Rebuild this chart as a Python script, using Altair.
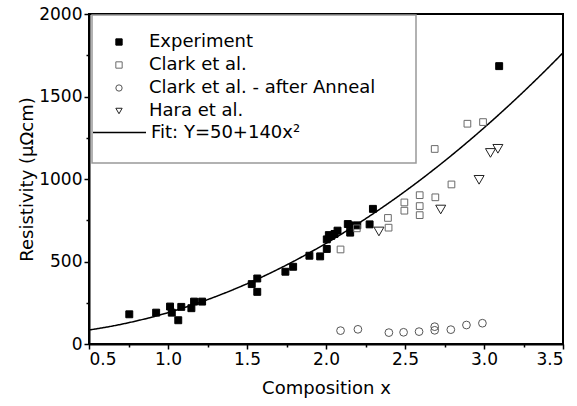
import altair as alt
import pandas as pd
import numpy as np

# ---- data ----
exp_x = [0.755, 0.925, 1.013, 1.024, 1.065, 1.084, 1.148, 1.165, 1.216, 1.53, 1.565, 1.565,
         1.743, 1.792, 1.895, 1.963, 2.005, 2.005, 2.018, 2.033, 2.054, 2.073, 2.138, 2.153,
         2.153, 2.198, 2.276, 2.297, 3.096]
exp_y = [180, 190, 227, 190, 144, 225, 217, 257, 257, 363, 397, 316,
         438, 468, 535, 531, 576, 634, 660, 655, 667, 687, 727, 719,
         675, 719, 725, 819, 1684]

clark_x = [2.092, 2.195, 2.392, 2.396, 2.496, 2.496, 2.593, 2.593, 2.593, 2.692, 2.688, 2.794, 2.895, 2.994]
clark_y = [573, 701, 764, 705, 858, 808, 902, 836, 781, 889, 1182, 967, 1335, 1345]

anneal_x = [2.092, 2.202, 2.398, 2.491, 2.589, 2.688, 2.688, 2.79, 2.889, 2.99]
anneal_y = [81, 89, 69, 71, 75, 105, 83, 87, 115, 126]

hara_x = [2.335, 2.726, 2.969, 3.041, 3.088]
hara_y = [682, 815, 995, 1158, 1183]

series_names = ["Experiment", "Clark et al.", "Clark et al. - after Anneal", "Hara et al."]
fit_label = "Fit: Y=50+140x\u00b2"
fit_a, fit_b = 50, 140

x_ticks = [0.5, 0.75, 1.0, 1.25, 1.5, 1.75, 2.0, 2.25, 2.5, 2.75, 3.0, 3.25, 3.5]
y_ticks = [0, 250, 500, 750, 1000, 1250, 1500, 1750, 2000]

# ---- tables ----
rows = []
for name, xs, ys in [(series_names[0], exp_x, exp_y), (series_names[1], clark_x, clark_y),
                     (series_names[2], anneal_x, anneal_y), (series_names[3], hara_x, hara_y)]:
    for a, b in zip(xs, ys):
        rows.append({"x": a, "y": b, "series": name})
pts = pd.DataFrame(rows)

fx = np.linspace(0.5, 3.5, 121)
fit = pd.DataFrame({"x": fx, "y": fit_a + fit_b * fx ** 2, "name": fit_label})

FONT = "DejaVu Sans"

xscale = alt.Scale(domain=[0.5, 3.5], nice=False, zero=False)
yscale = alt.Scale(domain=[0, 2000], nice=False)

xaxis = alt.Axis(
    values=x_ticks, title="Composition x",
    labelExpr="abs(datum.value*2 - round(datum.value*2)) < 0.01 ? format(datum.value, '.1f') : ''",
    tickSize={"condition": {"test": "abs(datum.value*2 - round(datum.value*2)) < 0.01", "value": 5}, "value": 3},
    labelPadding=2, titlePadding=12,
)
yaxis = alt.Axis(
    values=y_ticks, title="Resistivity (\u03bc\u03a9cm)",
    labelExpr="datum.value % 500 == 0 ? format(datum.value, 'd') : ''",
    tickSize={"condition": {"test": "datum.value % 500 == 0", "value": 5}, "value": 3},
    labelPadding=2, titlePadding=2,
)

shape_scale = alt.Scale(domain=series_names, range=["square", "square", "circle", "triangle-down"])
fill_scale = alt.Scale(domain=series_names, range=["black", "transparent", "transparent", "transparent"])
stroke_scale = alt.Scale(domain=series_names, range=["black", "#6a6a6a", "#555555", "#222222"])

pt_legend = alt.Legend(
    title=None, orient="none", legendX=21, legendY=19, symbolSize=40, symbolStrokeWidth=1,
    labelFontSize=18, labelFont=FONT, labelOffset=21, rowPadding=5, padding=0, labelLimit=0,
)

base = alt.Chart(pts)
sizes = {series_names[0]: 48, series_names[1]: 45, series_names[2]: 60, series_names[3]: 100}
layers = []
for i, name in enumerate(series_names):
    layers.append(
        base.transform_filter(alt.datum.series == name)
        .mark_point(size=sizes[name], strokeWidth=1, opacity=1)
        .encode(
            x=alt.X("x:Q", scale=xscale, axis=xaxis),
            y=alt.Y("y:Q", scale=yscale, axis=yaxis),
            shape=alt.Shape("series:N", scale=shape_scale, legend=pt_legend),
            fill=alt.Fill("series:N", scale=fill_scale, legend=pt_legend),
            stroke=alt.Stroke("series:N", scale=stroke_scale, legend=pt_legend),
        )
    )

line = alt.Chart(fit).mark_line(color="black", strokeWidth=1.5, clip=True).encode(
    x=alt.X("x:Q", scale=xscale, axis=xaxis),
    y=alt.Y("y:Q", scale=yscale, axis=yaxis),
    strokeDash=alt.StrokeDash(
        "name:N", scale=alt.Scale(domain=[fit_label], range=[[1, 0]]),
        legend=alt.Legend(title=None, orient="none", legendX=3, legendY=91, symbolType="stroke",
                          symbolSize=2809, symbolStrokeColor="black", symbolStrokeWidth=1.5,
                          labelFontSize=18, labelFont=FONT, labelOffset=4, padding=0, labelLimit=0),
    ),
)

box = alt.Chart(pd.DataFrame({"k": [0]})).mark_rect(
    fill="transparent", stroke="#999999", strokeWidth=1.5
).encode(x=alt.value(3), x2=alt.value(327), y=alt.value(1), y2=alt.value(149))

chart = alt.layer(box, line, *layers).properties(
    width=474, height=330,
    autosize=alt.AutoSizeParams(type="none"),
    padding={"left": 89, "top": 14, "right": 14, "bottom": 62},
).configure_view(
    stroke="black", strokeWidth=2
).configure_axis(
    grid=False, domainColor="black", domainWidth=2, tickColor="black", tickWidth=1.5,
    labelFont=FONT, labelFontSize=17, labelColor="black",
    titleFont=FONT, titleFontSize=18, titleFontWeight="normal", titleColor="black",
).configure_legend(
    labelColor="black"
)

chart.save("out.html", embed_options={"renderer": "svg", "actions": False})
